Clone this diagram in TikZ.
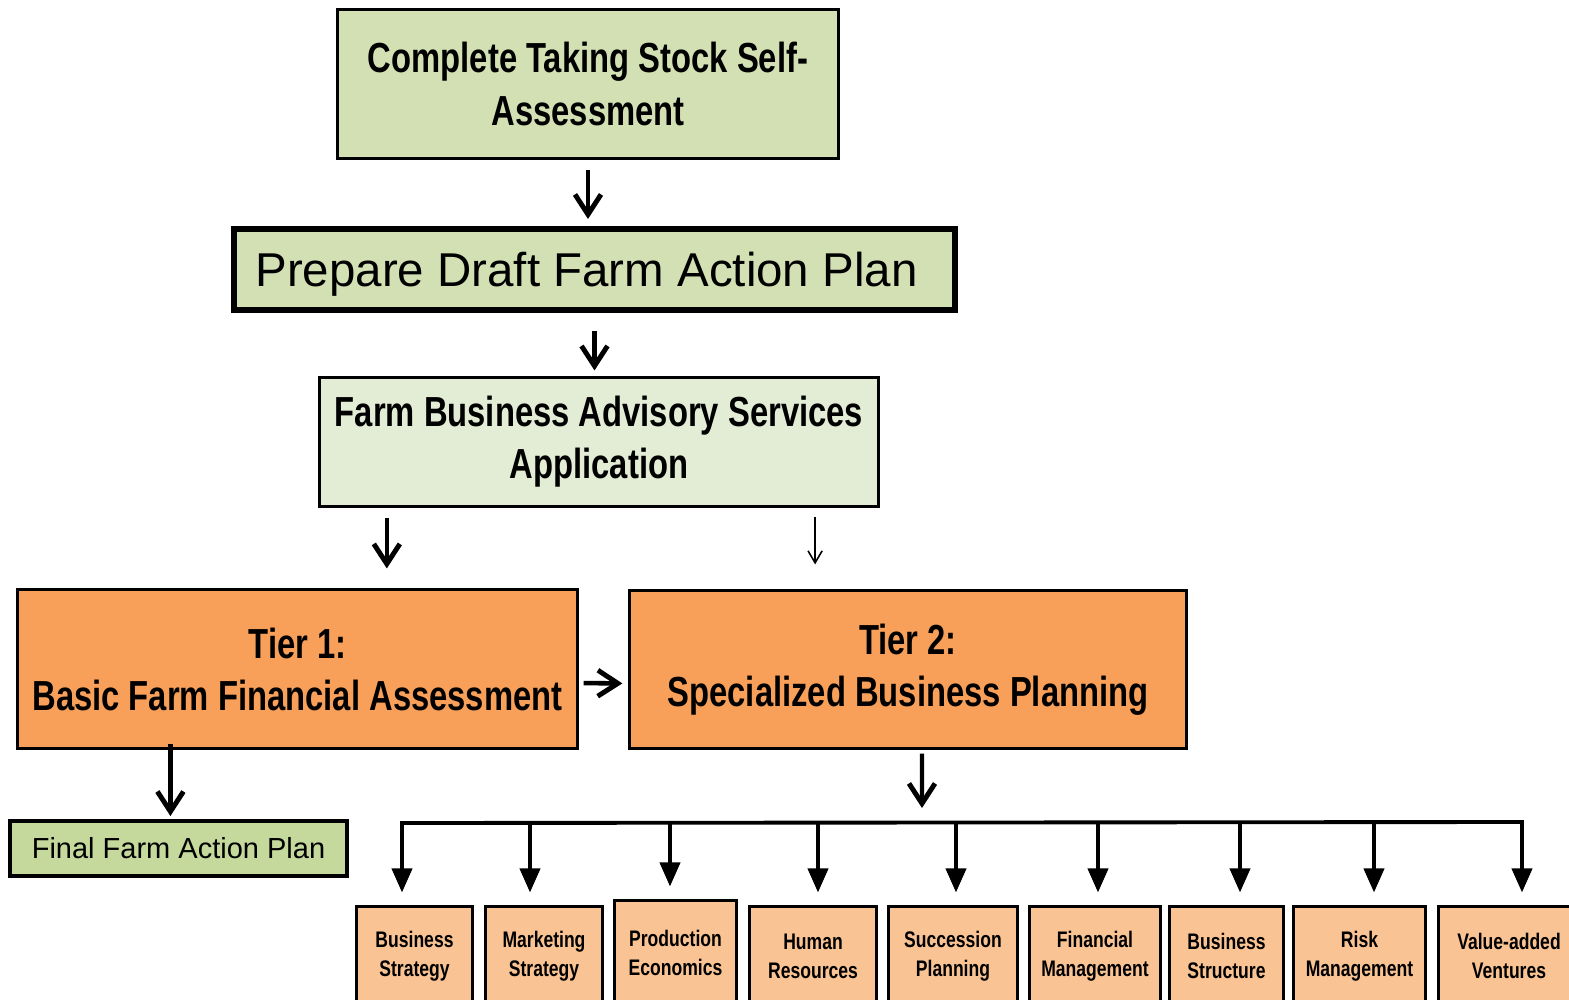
\documentclass[tikz,border=0pt]{standalone}
\usepackage{fontspec}
\setmainfont{Liberation Sans}
\newfontfamily\nar{Liberation Sans}[FakeStretch=0.78]
\usetikzlibrary{arrows.meta,calc}
\definecolor{gA}{HTML}{D3E0B4}
\definecolor{gB}{HTML}{E3EDD5}
\definecolor{gC}{HTML}{C5D99C}
\definecolor{oA}{HTML}{F8A05A}
\definecolor{oB}{HTML}{FAC393}
\begin{document}
\begin{tikzpicture}[x=0.01cm,y=-0.01cm,
  box/.style={draw=black, rectangle, inner sep=0pt, align=center, text=black},
  bigtxt/.style={font={\nar\bfseries\fontsize{11.95pt}{14.8pt}\selectfont}},
  smalltxt/.style={font={\nar\bfseries\fontsize{6.4pt}{8.25pt}\selectfont}},
  subbox/.style={box, fill=oB, line width=0.85pt, minimum height=0.98cm, smalltxt},
  barb/.style={-{Straight Barb[length=0.2cm,width=0.26cm,line width=1.4pt]}, line width=1.15pt},
  thinarrow/.style={-{Straight Barb[length=0.12cm,width=0.14cm]}, line width=0.45pt},
  tri/.style={-{Triangle[length=0.24cm,width=0.2cm]}, line width=1.1pt},
  busline/.style={line width=1.1pt, line cap=rect}
]
\useasboundingbox (0,0) rectangle (1569,1000);
\clip (0,0) rectangle (1569,1000);

\node[box, fill=gA, line width=0.85pt, minimum width=5cm, minimum height=1.48cm, bigtxt] (b1) at (588,84) {Complete Taking Stock Self-\\Assessment};
\node[box, fill=gA, line width=1.7pt, minimum width=7.21cm, minimum height=0.81cm, text depth=0pt, font={\fontsize{13.5pt}{16pt}\selectfont}] (b2) at (594.5,269.5) {Prepare Draft Farm Action Plan\hspace{0.16cm}};
\node[box, fill=gB, line width=0.85pt, minimum width=5.58cm, minimum height=1.28cm, bigtxt] (b3) at (599,442) {Farm Business Advisory Services\\Application};
\node[box, fill=oA, line width=0.85pt, minimum width=5.59cm, minimum height=1.58cm, bigtxt] (t1) at (297.5,669) {Tier 1:\\Basic Farm Financial Assessment};
\node[box, fill=oA, line width=0.85pt, minimum width=5.56cm, minimum height=1.57cm, bigtxt] (t2) at (908,669.5) {Tier 2:\\Specialized Business Planning};
\node[box, fill=gC, line width=1.1pt, minimum width=3.37cm, minimum height=0.55cm, font={\fontsize{8.25pt}{10pt}\selectfont}] (fin) at (178.5,848.5) {Final Farm Action Plan};

\node[subbox, minimum width=1.15cm] (p1) at (414.5,956) {Business\\Strategy};
\node[subbox, minimum width=1.16cm] (p2) at (544,956) {Marketing\\Strategy};
\node[subbox, minimum width=1.21cm, minimum height=1.04cm] (p3) at (675.5,953) {Production\\Economics};
\node[subbox, minimum width=1.26cm] (p4) at (813,956) {Human\\Resources};
\node[subbox, minimum width=1.28cm] (p5) at (953,956) {Succession\\Planning};
\node[subbox, minimum width=1.30cm] (p6) at (1095,956) {Financial\\Management};
\node[subbox, minimum width=1.13cm] (p7) at (1226.5,956) {Business\\Structure};
\node[subbox, minimum width=1.31cm] (p8) at (1359.5,956) {Risk\\Management};
\node[subbox, minimum width=1.40cm] (p9) at (1509,956) {Value-added\\Ventures};

\draw[barb, shorten <=0.1cm, shorten >=0.07cm] (b1.south) -- (b1.south |- b2.north);
\draw[barb, shorten <=0.18cm, shorten >=0.06cm] (b2.south) -- (b2.south |- b3.north);

\coordinate (s1) at ($(b3.south west)!0.122!(b3.south east)$);
\draw[barb, shorten <=0.1cm, shorten >=0.2cm] (s1) -- (s1 |- t1.north);
\coordinate (s2) at ($(b3.south west)!0.885!(b3.south east)$);
\draw[thinarrow, shorten <=0.09cm, shorten >=0.25cm] (s2) -- (s2 |- t2.north);

\draw[barb, line width=1.3pt, shorten <=0.05cm, shorten >=0.06cm] ([yshift=-0.14cm]t1.east) -- ([yshift=-0.14cm]t2.west);

\coordinate (s3) at ($(t1.south west)!0.274!(t1.south east)$);
\draw[barb, line width=1.5pt, shorten <=-0.06cm, shorten >=0.03cm] (s3) -- (s3 |- fin.north);

\coordinate (s4) at ($(t2.south west)!0.525!(t2.south east)$);
\coordinate (k0) at (922,822);
\draw[barb, shorten <=0.04cm, shorten >=0.14cm] (s4) -- (k0);

\coordinate (k1) at (402,823);
\coordinate (k2) at (530,822);
\coordinate (k3) at (670,822);
\coordinate (k4) at (818,822);
\coordinate (k5) at (956,822);
\coordinate (k6) at (1098,822);
\coordinate (k7) at (1240,822);
\coordinate (k8) at (1374,822);
\coordinate (k9) at (1522,822);
\draw[busline] (k1) -- (k9);
\foreach \i in {1,...,9}{
  \draw[tri, shorten >=0.13cm] (k\i) -- (k\i |- p\i.north);
}
\end{tikzpicture}
\end{document}
